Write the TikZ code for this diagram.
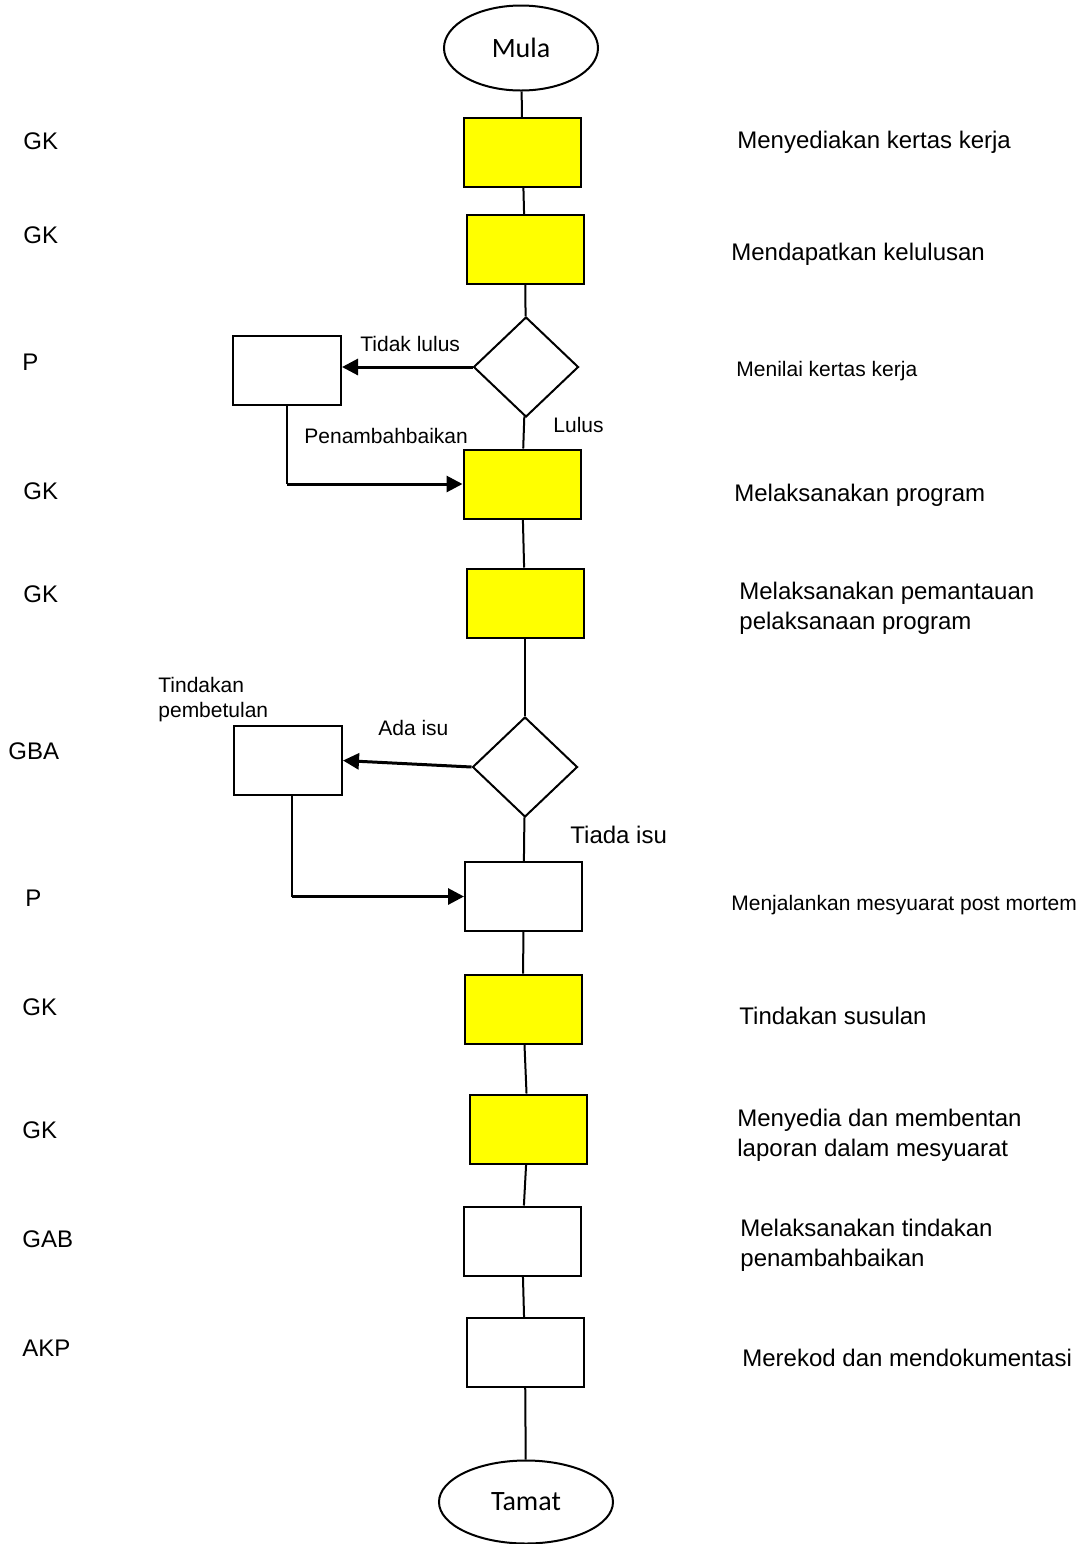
\documentclass[tikz,border=0pt]{standalone}
\usepackage{fontspec}
\setmainfont{Liberation Sans}
\newfontfamily\calib{Carlito}
\usetikzlibrary{shapes.geometric,arrows.meta}
\definecolor{boxyellow}{RGB}{255,255,0}
\begin{document}
\begin{tikzpicture}[x=0.5pt,y=-0.5pt,
 proc/.style={draw,line width=1pt,minimum width=58.5pt,minimum height=34.5pt,inner sep=0pt},
 yproc/.style={proc,fill=boxyellow},
 side/.style={proc,minimum width=54pt},
 term/.style={draw,ellipse,line width=1pt,inner sep=0pt,font=\calib\fontsize{14}{16}\selectfont},
 dec/.style={draw,diamond,line width=1pt,minimum width=52.5pt,minimum height=50pt,inner sep=0pt},
 lab/.style={inner sep=0pt,anchor=base west,font=\fontsize{12}{15}\selectfont},
 mlab/.style={inner sep=0pt,anchor=west,align=left,font=\fontsize{12}{15}\selectfont},
 slab/.style={inner sep=0pt,anchor=base west,font=\fontsize{10.5}{12.5}\selectfont},
 smlab/.style={inner sep=0pt,anchor=west,align=left,font=\fontsize{10.5}{12.5}\selectfont},
 conn/.style={line width=1pt},
 arr/.style={line width=1.5pt,-{Triangle[length=8pt,width=8pt]}},
]
\useasboundingbox (0,0) rectangle (1085,1544);

% flow nodes
\node[term,minimum width=77pt,minimum height=42.5pt] (mula) at (521,48) {Mula};
\node[yproc] (b1) at (522.5,152.5) {};
\node[yproc] (b2) at (525,249.5) {};
\node[dec] (d1) at (526,367) {};
\node[side] (r1) at (287,370.5) {};
\node[yproc] (b3) at (522,484) {};
\node[yproc] (b4) at (525,603) {};
\node[dec] (d2) at (525,767) {};
\node[side] (r2) at (288,760.5) {};
\node[proc] (b5) at (523.5,896.5) {};
\node[yproc] (b6) at (523,1009) {};
\node[yproc] (b7) at (528,1129) {};
\node[proc] (b8) at (522,1241) {};
\node[proc] (b9) at (525,1352.5) {};
\node[term,minimum width=87pt,minimum height=41.5pt] (tamat) at (526,1502) {Tamat};

% main connectors
\draw[conn] (mula) -- (b1);
\draw[conn] (b1) -- (b2);
\draw[conn] (b2) -- (d1);
\draw[conn] (d1) -- (b3);
\draw[conn] (b3) -- (b4);
\draw[conn] (b4) -- (d2);
\draw[conn] (d2) -- (b5);
\draw[conn] (b5) -- (b6);
\draw[conn] (b6) -- (b7);
\draw[conn] (b7) -- (b8);
\draw[conn] (b8) -- (b9);
\draw[conn] (b9) -- (tamat);

% side branches
\draw[arr] (d1.west) -- (d1.west -| r1.east);
\coordinate (c1) at (r1.south |- b3.west);
\draw[conn] (r1.south) -- (c1);
\draw[arr] (c1) -- (b3.west);
\draw[arr] (d2.west) -- (r2.east);
\coordinate (s2) at ([xshift=2pt]r2.south);
\coordinate (c2) at (s2 |- b5.west);
\draw[conn] (s2) -- (c2);
\draw[arr] (c2) -- (b5.west);

% branch labels
\node[slab] (tl) at (360,351) {Tidak lulus};
\node[slab] (pb) at (304,443.5) {Penambahbaikan};
\node[slab] (ll) at (553,432) {Lulus};
\node[slab] (ai) at (378,735.5) {Ada isu};
\node[smlab] (tp) at (158,699.5) {Tindakan\\pembetulan};
\node[lab] (ti) at (570,843) {Tiada isu};

% left role labels
\node[lab] (l1) at (23,149) {GK};
\node[lab] (l2) at (23,243) {GK};
\node[lab] (l3) at (22,370) {P};
\node[lab] (l4) at (23,499) {GK};
\node[lab] (l5) at (23,602) {GK};
\node[lab] (l6) at (8,759) {GBA};
\node[lab] (l7) at (25,906) {P};
\node[lab] (l8) at (22,1015) {GK};
\node[lab] (l9) at (22,1138) {GK};
\node[lab] (l10) at (22,1247) {GAB};
\node[lab] (l11) at (22,1356) {AKP};

% right description labels
\node[lab] (t1) at (737,148) {Menyediakan kertas kerja};
\node[lab] (t2) at (731,260) {Mendapatkan kelulusan};
\node[slab] (t3) at (736,376) {Menilai kertas kerja};
\node[lab] (t4) at (734,501) {Melaksanakan program};
\node[mlab] (t5) at (739,608) {Melaksanakan pemantauan\\pelaksanaan program};
\node[slab] (t6) at (731,910) {Menjalankan mesyuarat post mortem};
\node[lab] (t7) at (739,1024) {Tindakan susulan};
\node[mlab] (t8) at (737,1135) {Menyedia dan membentan\\laporan dalam mesyuarat};
\node[mlab] (t9) at (740,1245) {Melaksanakan tindakan\\penambahbaikan};
\node[lab] (t10) at (742,1366) {Merekod dan mendokumentasi};
\end{tikzpicture}
\end{document}
